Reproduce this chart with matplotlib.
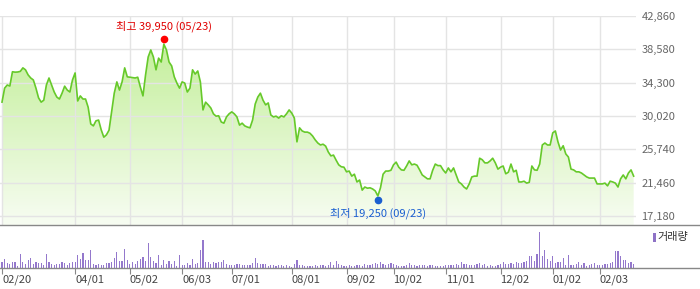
import numpy as np
import matplotlib.pyplot as plt
from matplotlib.lines import Line2D
from matplotlib.patches import Rectangle

plt.rcParams['font.family'] = ['Noto Sans CJK KR', 'DejaVu Sans']

# ---------------------------------
# 데이터 (일별 종가, 거래량)
# ---------------------------------

price = [
    31800, 33600, 34000, 33870, 35700, 35650, 35670, 35750, 36200, 35950,
    35300, 34900, 34650, 33600, 32350, 31800, 32050, 34000, 34900, 34000,
    33100, 32450, 32200, 32950, 33850, 33350, 33100, 34650, 35550, 31950,
    32600, 32200, 32200, 31150, 29000, 28750, 29400, 29500, 28250, 27300,
    27600, 28200, 30550, 32950, 34400, 33350, 34400, 36200, 35050, 35000,
    34950, 34900, 35000, 33750, 32600, 35300, 37600, 38500, 37600, 35950,
    37450, 36950, 39250, 38500, 36950, 36450, 35050, 34250, 33600, 34400,
    34250, 33100, 33600, 35950, 35400, 35800, 34400, 30800, 31800, 31450,
    31050, 30300, 30000, 30050, 29250, 29100, 29900, 30300, 30550, 30300,
    29900, 28850, 29100, 28750, 28600, 28500, 29500, 31550, 32450, 32950,
    32050, 31450, 31700, 30150, 29900, 30000, 29750, 30050, 29900, 30300,
    30800, 30400, 29750, 26700, 28500, 28100, 27950, 27950, 27800, 27450,
    26950, 26550, 26300, 26400, 26150, 25400, 24900, 25000, 24350, 23750,
    23500, 23450, 22850, 22950, 22300, 22550, 21550, 21800, 20500, 20900,
    20750, 20800, 20650, 20400, 19750, 20800, 22550, 22950, 22950, 23050,
    23750, 24100, 23450, 23100, 23050, 23600, 24250, 23750, 23850, 23700,
    23100, 22450, 22200, 21950, 21950, 23050, 23850, 23650, 23650, 23100,
    22700, 23350, 22850, 23350, 22450, 21550, 21300, 20900, 20650, 21300,
    22200, 22300, 22300, 24600, 24400, 24000, 24000, 24250, 24600, 24000,
    23200, 23450, 23600, 22600, 22800, 23850, 22850, 23050, 21550, 21550,
    21650, 21400, 21500, 23600, 23100, 23050, 23850, 26300, 26550, 26300,
    26300, 27850, 28100, 26700, 25650, 26200, 25150, 24750, 23200, 23100,
    22850, 22850, 22700, 22450, 22200, 22050, 22050, 22050, 21300, 21300,
    21300, 21400, 21050, 21650, 21550, 21400, 20900, 21950, 22450, 21950,
    22700, 23100, 22300,
]

volume = [
    6, 9, 5, 4, 6, 6, 2, 14, 6, 4,
    8, 10, 4, 6, 5, 5, 3, 14, 6, 4,
    3, 4, 4, 6, 5, 3, 5, 6, 6, 13,
    9, 15, 8, 8, 18, 4, 3, 4, 3, 3,
    5, 5, 6, 10, 16, 7, 7, 19, 8, 4,
    6, 4, 7, 9, 11, 7, 25, 11, 7, 5,
    13, 3, 8, 4, 7, 4, 7, 2, 13, 3,
    3, 5, 3, 9, 4, 5, 18, 28, 6, 6,
    4, 6, 5, 6, 6, 8, 4, 3, 3, 3,
    4, 4, 3, 3, 3, 3, 5, 10, 5, 4,
    4, 4, 2, 3, 3, 2, 3, 3, 2, 3,
    2, 1, 4, 8, 3, 3, 2, 2, 2, 2,
    3, 2, 3, 3, 2, 3, 6, 3, 7, 4,
    3, 2, 2,
    3, 2, 2, 3, 3, 2, 4, 3, 3, 4,
    5, 4, 6, 4, 3, 4, 5, 4, 3, 2,
    2, 2, 3, 5, 3, 3, 2, 3, 3, 3,
    2, 3, 3, 2, 2, 2, 2, 3, 3, 3,
    3, 4, 3, 6, 4, 4, 3, 3, 3, 4,
    5, 3, 4, 2, 3, 2, 2, 3, 4, 6,
    4, 4, 5, 4, 6, 5, 5, 6, 7, 12,
    12, 7, 14, 36, 12, 18, 9, 7, 12, 5,
    6, 6, 10, 3, 13, 3, 3, 4, 6, 3,
    5, 2, 3, 4, 5, 3, 3, 3, 4, 4,
    5, 6, 17, 17, 12, 8, 8, 5, 6, 4,
]

tick_pos = [0, 28, 49, 69, 88, 111, 132, 150, 170, 191, 211, 229]
tick_labels = ['02/20', '04/01', '05/02', '06/03', '07/01', '08/01',
               '09/02', '10/02', '11/01', '12/02', '01/02', '02/03']
ytick_vals = [17180, 21460, 25740, 30020, 34300, 38580, 42860]

high_val, high_idx, high_date = 39950, 62, '05/23'
low_val, low_idx, low_date = 19250, 144, '09/23'

x = np.arange(len(price))

# ---------------------------------
# 그림
# ---------------------------------

W, H = 700, 289
fig = plt.figure(figsize=(W / 100, H / 100), dpi=100)
fig.patch.set_facecolor('white')

ax = fig.add_axes([0, 1 - 225 / H, 636 / W, (225 - 16) / H])
axv = fig.add_axes([0, 1 - 268 / H, 636 / W, (268 - 226) / H])

x0, x1 = -0.77, 242.9
ylo, yhi = 16024, 42860
ax.set_xlim(x0, x1)
ax.set_ylim(ylo, yhi)

# 그라데이션 영역
t = np.linspace(0, 1, 256).reshape(-1, 1, 1)
top = np.array([0.74, 0.93, 0.56])
bot = np.array([0.97, 0.99, 0.95])
img = bot + (top - bot) * t
im = ax.imshow(img, extent=[x0, x1, ylo, yhi], origin='lower',
               aspect='auto', zorder=1, interpolation='bilinear')
poly = ax.fill_between(x, price, ylo, facecolor='none', edgecolor='none')
im.set_clip_path(poly.get_paths()[0], transform=ax.transData)

ax.plot(x, price, color='#66c92a', lw=1.2, zorder=3)

# 그리드
ax.set_yticks(ytick_vals)
ax.set_yticklabels([f'{v:,}' for v in ytick_vals])
ax.set_xticks(tick_pos)
ax.grid(True, color='#e4e4e4', lw=1)
ax.set_axisbelow(False)
ax.tick_params(axis='y', left=False, right=True, labelleft=False,
               labelright=True, length=0, pad=4, labelsize=8,
               labelcolor='#666666')
ax.tick_params(axis='x', length=0, labelbottom=False)
for s in ax.spines.values():
    s.set_visible(False)

# 최고 / 최저
ax.plot(high_idx, high_val, 'o', color='#ff0000', ms=4.5, zorder=4)
ax.annotate(f'최고 {high_val:,} ({high_date})', (high_idx, high_val),
            xytext=(0, 9), textcoords='offset points', ha='center',
            va='center', color='#e00000', fontsize=8)
ax.plot(low_idx, low_val, 'o', color='#1a5fd0', ms=4.5, zorder=4)
ax.annotate(f'최저 {low_val:,} ({low_date})', (low_idx, low_val),
            xytext=(0, -9.5), textcoords='offset points', ha='center',
            va='center', color='#1a5fd0', fontsize=8)

# 거래량
axv.bar(x, volume, width=0.45, color='#9478cc', lw=0)
axv.set_xlim(x0, x1)
axv.set_ylim(0, 42)
axv.set_yticks([])
axv.set_xticks(tick_pos)
axv.set_xticklabels(tick_labels, ha='left')
axv.tick_params(axis='x', length=4, color='#888888', pad=1,
                labelsize=8, labelcolor='#444444')
for s in axv.spines.values():
    s.set_visible(False)

# 구분선
for yy in (225, 268):
    fig.add_artist(Line2D([0, 1], [1 - yy / H] * 2, transform=fig.transFigure,
                          color='#888888', lw=1))

# 범례
fig.add_artist(Rectangle((653 / W, 1 - 242 / H), 2.5 / W, 9 / H,
                         transform=fig.transFigure, color='#8e72c6', lw=0))
fig.text(657 / W, 1 - 237 / H, '거래량', va='center', ha='left',
         fontsize=8, color='#333333')

fig.savefig('out.png', dpi=100)
